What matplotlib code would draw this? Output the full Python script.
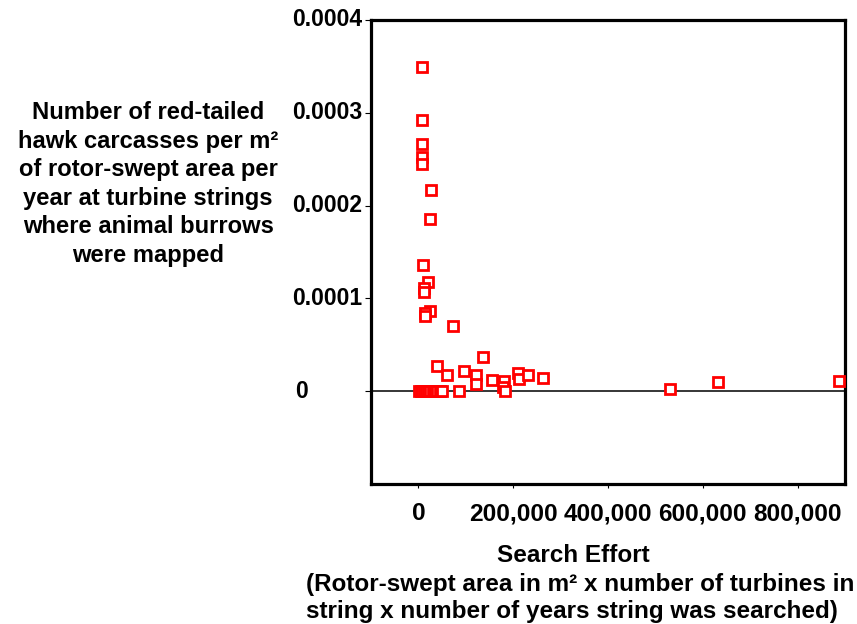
import matplotlib.pyplot as plt
from matplotlib.ticker import FuncFormatter
from matplotlib.transforms import blended_transform_factory

plt.rcParams['font.family'] = ['Liberation Sans', 'DejaVu Sans']
plt.rcParams['font.weight'] = 'bold'

# search effort (x) and carcasses per m2 per year (y)
effort = [7000, 7000, 7000, 7000, 7000, 26600, 24500, 10500, 21000, 12600, 12600,
          24500, 13500, 14500, 74000, 136000, 39000, 60000, 96500, 122000, 122000,
          156000, 181000, 178000, 182000, 210000, 213000, 232000, 262000, 85000,
          530000, 633000, 888000,
          2000, 5000, 8000, 12000, 16000, 20000, 25000, 30000, 35000, 40000, 45000, 50000]
rate = [0.000349, 0.000292, 0.0002666, 0.0002526, 0.0002444, 0.0002168, 0.0001857,
        0.0001361, 0.0001172, 0.000111, 0.0001068, 0.000086, 0.0000847, 0.0000811,
        0.0000704, 0.0000372, 0.0000275, 0.0000175, 0.0000218, 0.0000175, 0.0000075,
        0.0000125, 0.0000115, 0.000005, 0.0, 0.0000193, 0.0000129, 0.0000175,
        0.0000147, 0.0, 0.0000029, 0.00001, 0.0000115,
        0, 0, 0, 0, 0, 0, 0, 0, 0, 0, 0, 0]

xticks = [0, 200000, 400000, 600000, 800000]
yticks = [0, 0.0001, 0.0002, 0.0003, 0.0004]
yticklabels = ['0', '0.0001', '0.0002', '0.0003', '0.0004']

fig = plt.figure(figsize=(8.57, 6.24), dpi=100)
ax = fig.add_axes([371 / 857, (624 - 484) / 624, 474 / 857, 464 / 624])

ax.axhline(0, color='black', lw=1.1, zorder=1)
ax.plot(effort, rate, ls='none', marker='s', ms=6.5, mfc='white',
        mec='#ff0000', mew=2, zorder=3, clip_on=False)

ax.set_xlim(-100000, 900000)
ax.set_ylim(-0.0001, 0.0004)
ax.set_xticks(xticks)
ax.xaxis.set_major_formatter(FuncFormatter(lambda v, p: f'{int(v):,}'))
ax.set_yticks(yticks)
ax.set_yticklabels([])

for s in ax.spines.values():
    s.set_linewidth(2.3)
ax.tick_params(axis='x', length=3, width=0.8, pad=10, labelsize=17.6)
ax.tick_params(axis='y', length=4, width=0.8)

# y tick labels sit left-aligned, like the original
trans = blended_transform_factory(fig.transFigure, ax.transData)
for v, lab in zip(yticks, yticklabels):
    x0 = 292 / 857 if lab != '0' else 295 / 857
    ax.text(x0, v, lab, transform=trans, ha='left', va='center', fontsize=16.5,
            fontweight='bold')

ax.text(-0.47, 0.6466,
        'Number of red-tailed\nhawk carcasses per m\u00b2\nof rotor-swept area per\n'
        'year at turbine strings\nwhere animal burrows\nwere mapped',
        transform=ax.transAxes, ha='center', va='center', fontsize=17.1,
        fontweight='bold', linespacing=1.31)

fig.text(573 / 857, 1 - 555 / 624, 'Search Effort', ha='center', va='center',
         fontsize=17.5, fontweight='bold')
fig.text(306 / 857, 1 - 598 / 624,
         '(Rotor-swept area in m\u00b2 x number of turbines in\n'
         'string x number of years string was searched)',
         ha='left', va='center', fontsize=17.5, fontweight='bold', linespacing=1.26)

fig.savefig('out.png', dpi=100)
